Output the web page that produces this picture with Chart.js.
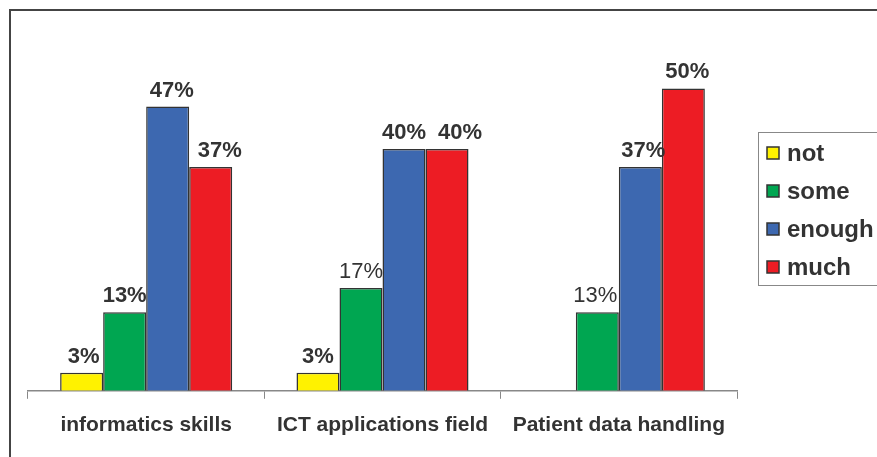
<!DOCTYPE html>
<html>
<head>
<meta charset="utf-8">
<script src="https://cdn.jsdelivr.net/npm/chart.js@4"></script>
<style>
    html, body { margin: 0; padding: 0; background: #fff; }
    #wrap { width: 877px; height: 457px; position: relative; }
</style>
</head>
<body>
<div id="wrap"><canvas id="chart" width="877" height="457"></canvas></div>
<script>
// data (percent)
const categories = ['informatics skills', 'ICT applications field', 'Patient data handling'];
const seriesNames = ['not', 'some', 'enough', 'much'];
const notValues = [3, 3, 0];
const someValues = [13, 17, 13];
const enoughValues = [47, 40, 37];
const muchValues = [37, 40, 50];

const FONT = '"Liberation Sans", Arial, Helvetica, sans-serif';
const INK = '#333333';

// label styling: regular weight ones, and small sideways nudges (dataset-point)
const regularLabels = ['1-1', '1-2'];
const labelNudge = { '0-0': 2, '2-0': 4, '3-0': 9, '3-1': 13, '2-2': 3, '3-2': 4, '1-2': -2 };

// outer frame of the picture
const framePlugin = {
    id: 'frame',
    beforeDraw(chart) {
        const ctx = chart.ctx;
        ctx.save();
        ctx.strokeStyle = '#444';
        ctx.lineWidth = 2;
        ctx.strokeRect(10, 10, 1200, 1200);
        ctx.restore();
    }
};

// percent labels above the bars
const valueLabels = {
    id: 'valueLabels',
    afterDatasetsDraw(chart) {
        const ctx = chart.ctx;
        ctx.save();
        ctx.fillStyle = INK;
        ctx.textAlign = 'center';
        ctx.textBaseline = 'alphabetic';
        chart.data.datasets.forEach((ds, i) => {
            const meta = chart.getDatasetMeta(i);
            meta.data.forEach((bar, j) => {
                const v = ds.data[j];
                if (!v) return;
                const key = i + '-' + j;
                const bold = !regularLabels.includes(key);
                ctx.font = (bold ? 'bold ' : '') + '22px ' + FONT;
                ctx.fillText(v + '%', bar.x + (labelNudge[key] || 0), bar.y - 10);
            });
        });
        ctx.restore();
    }
};

// boxed legend on the right, partly cut by the picture edge
const boxLegend = {
    id: 'boxLegend',
    afterDraw(chart) {
        const ctx = chart.ctx;
        ctx.save();
        ctx.strokeStyle = '#888';
        ctx.lineWidth = 1;
        ctx.strokeRect(758.5, 132.5, 300, 153);
        ctx.font = 'bold 24px ' + FONT;
        ctx.textBaseline = 'middle';
        chart.data.datasets.forEach((ds, i) => {
            const cy = 153 + i * 38;
            ctx.fillStyle = ds.backgroundColor;
            ctx.fillRect(767, cy - 6, 12, 12);
            ctx.strokeStyle = INK;
            ctx.lineWidth = 1.5;
            ctx.strokeRect(767, cy - 6, 12, 12);
            ctx.fillStyle = INK;
            ctx.fillText(ds.label, 787, cy + 1);
        });
        ctx.restore();
    }
};

const colors = ['#fff200', '#00a651', '#3d68b0', '#ed1c24'];
const values = [notValues, someValues, enoughValues, muchValues];

new Chart(document.getElementById('chart'), {
    type: 'bar',
    data: {
        labels: categories,
        datasets: seriesNames.map((name, i) => ({
            label: name,
            data: values[i],
            backgroundColor: colors[i],
            borderColor: INK,
            borderWidth: 1.5,
            categoryPercentage: 0.728,
            barPercentage: 1
        }))
    },
    options: {
        responsive: false,
        animation: false,
        devicePixelRatio: 1,
        layout: { padding: { left: 28, right: 140, top: 28, bottom: 5 } },
        plugins: {
            legend: { display: false },
            tooltip: { enabled: false }
        },
        scales: {
            x: {
                grid: {
                    offset: true,
                    drawOnChartArea: false,
                    drawTicks: true,
                    tickLength: 8,
                    color: '#888',
                    lineWidth: 1
                },
                border: { display: true, color: '#888', width: 1.5 },
                ticks: {
                    color: INK,
                    padding: 14,
                    font: { family: FONT, size: 21, weight: 'bold' },
                    maxRotation: 0
                }
            },
            y: {
                display: false,
                min: 0,
                max: 60
            }
        }
    },
    plugins: [framePlugin, valueLabels, boxLegend]
});
</script>
</body>
</html>
